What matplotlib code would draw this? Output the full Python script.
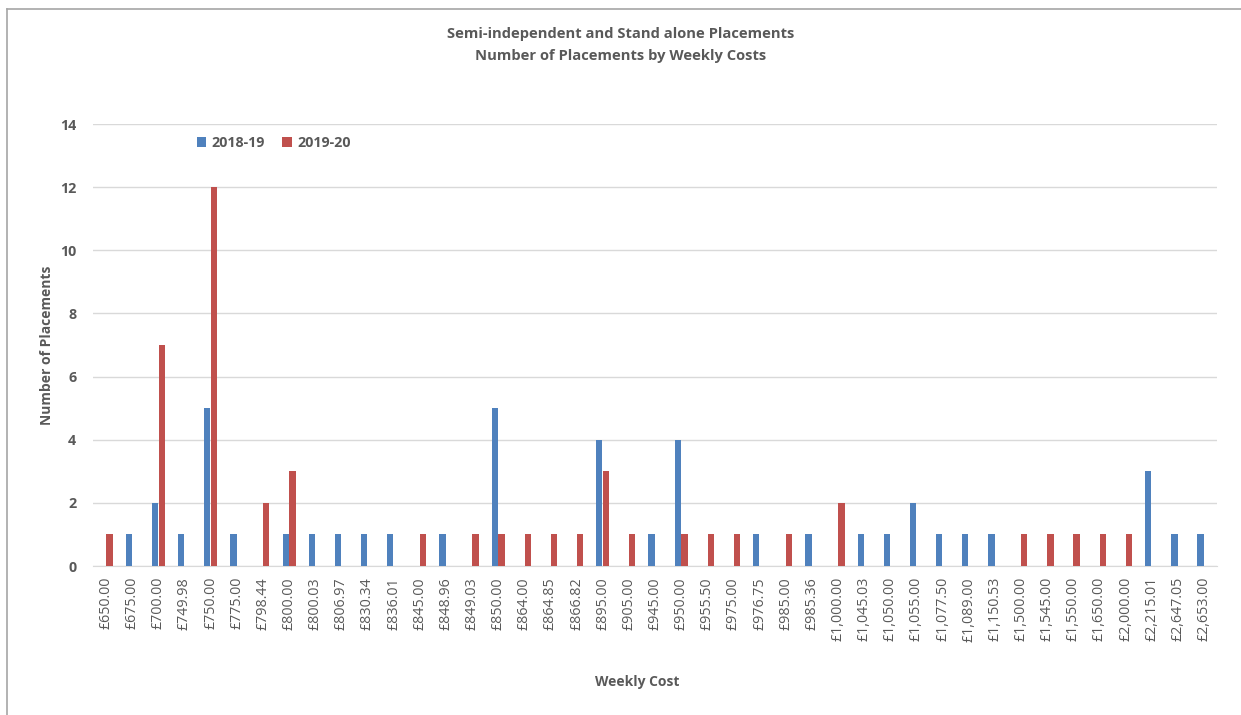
import numpy as np
import matplotlib.pyplot as plt
from matplotlib.lines import Line2D

# Weekly cost categories
costs = ["£650.00", "£675.00", "£700.00", "£749.98", "£750.00", "£775.00",
         "£798.44", "£800.00", "£800.03", "£806.97", "£830.34", "£836.01",
         "£845.00", "£848.96", "£849.03", "£850.00", "£864.00", "£864.85",
         "£866.82", "£895.00", "£905.00", "£945.00", "£950.00", "£955.50",
         "£975.00", "£976.75", "£985.00", "£985.36", "£1,000.00", "£1,045.03",
         "£1,050.00", "£1,055.00", "£1,077.50", "£1,089.00", "£1,150.53",
         "£1,500.00", "£1,545.00", "£1,550.00", "£1,650.00", "£2,000.00",
         "£2,215.01", "£2,647.05", "£2,653.00"]

# Number of placements per year
y2018_19 = [0, 1, 2, 1, 5, 1, 0, 1, 1, 1, 1, 1, 0, 1, 0, 5, 0, 0, 0, 4, 0, 1,
            4, 0, 0, 1, 0, 1, 0, 1, 1, 2, 1, 1, 1, 0, 0, 0, 0, 0, 3, 1, 1]
y2019_20 = [1, 0, 7, 0, 12, 0, 2, 3, 0, 0, 0, 0, 1, 0, 1, 1, 1, 1, 1, 3, 1, 0,
            1, 1, 1, 0, 1, 0, 2, 0, 0, 0, 0, 0, 0, 1, 1, 1, 1, 1, 0, 0, 0]

blue = "#4F81BD"
red = "#C0504D"
grey = "#595959"
font = "Open Sans"

fig = plt.figure(figsize=(12.41, 7.15), dpi=100)
ax = fig.add_axes([93 / 1241, 1 - 566 / 715, (1217 - 93) / 1241, (566 - 124) / 715])

x = np.arange(len(costs))
w = 0.24
ax.bar(x - w / 2 - 0.01, y2018_19, w, color=blue, label="2018-19", zorder=3)
ax.bar(x + w / 2 + 0.01, y2019_20, w, color=red, label="2019-20", zorder=3)

ax.set_xlim(-0.5, len(costs) - 0.5)
ax.set_ylim(0, 14)
ax.set_yticks(range(0, 15, 2))
ax.set_xticks(x)
ax.set_xticklabels(costs, rotation=90, fontsize=10.3, color=grey, family=font)
for lab in ax.get_yticklabels():
    lab.set_fontsize(10.3)
    lab.set_color(grey)
    lab.set_fontweight("bold")
    lab.set_family(font)
ax.tick_params(length=0, pad=8)
ax.tick_params(axis="y", pad=12)
ax.grid(axis="y", color="#D9D9D9", linewidth=1, zorder=0)
for s in ["top", "right", "left"]:
    ax.spines[s].set_visible(False)
ax.spines["bottom"].set_color("#D9D9D9")

fig.text(0.5, 1 - 34 / 715, "Semi-independent and Stand alone Placements",
         ha="center", va="center", fontsize=10.6, fontweight="bold", color=grey, family=font)
fig.text(0.5, 1 - 56 / 715, "Number of Placements by Weekly Costs",
         ha="center", va="center", fontsize=10.6, fontweight="bold", color=grey, family=font)
fig.text(47 / 1241, 1 - 345 / 715, "Number of Placements", rotation=90,
         ha="center", va="center", fontsize=10, fontweight="bold", color=grey, family=font)
fig.text(637 / 1241, 1 - 682 / 715, "Weekly Cost",
         ha="center", va="center", fontsize=10, fontweight="bold", color=grey, family=font)

leg = fig.legend(loc="center left", bbox_to_anchor=(184 / 1241, 1 - 143 / 715), ncol=2,
                 frameon=False, handlelength=0.65, handleheight=0.65, handletextpad=0.4,
                 columnspacing=1.2, prop={"family": font, "weight": "bold", "size": 10.3})
for t in leg.get_texts():
    t.set_color(grey)

# border
fig.add_artist(Line2D([7 / 1241, 1], [1 - 9 / 715, 1 - 9 / 715], color="#A6A6A6", lw=1.2))
fig.add_artist(Line2D([7 / 1241, 7 / 1241], [0, 1 - 9 / 715], color="#A6A6A6", lw=1.2))

plt.savefig("out.png", dpi=100)
